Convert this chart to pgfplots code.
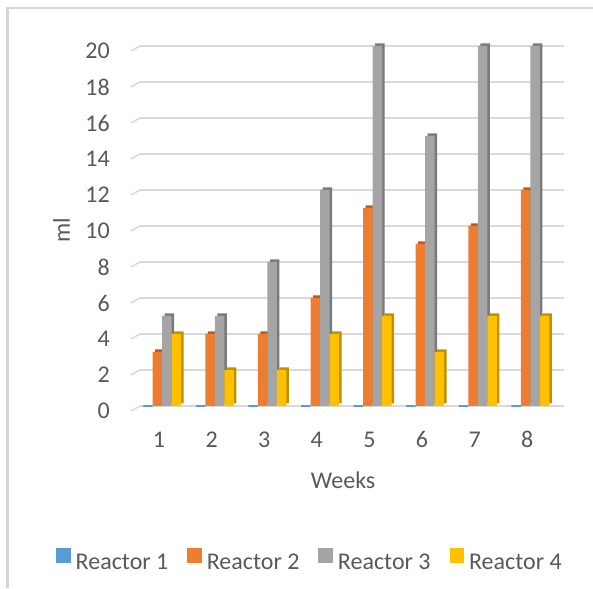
\documentclass[border=0pt]{standalone}
\usepackage{fontspec}
\setmainfont{Carlito}
\usepackage{pgfplots}
\usepackage{pgfplotstable}
\pgfplotsset{compat=1.18}
\definecolor{txt}{HTML}{595959}
\definecolor{gridc}{HTML}{D9D9D9}
\definecolor{framec}{HTML}{D4D4D4}
\definecolor{cA}{HTML}{5B9BD5}
\definecolor{cB}{HTML}{ED7D31}
\definecolor{cC}{HTML}{A5A5A5}
\definecolor{cD}{HTML}{FFC000}
\definecolor{sB}{HTML}{B35C22}
\definecolor{sC}{HTML}{7A7A7A}
\definecolor{sD}{HTML}{BF9000}
\pgfplotstableread{
week r1 r2 r3 r4
1 0 3 5 4
2 0 4 5 2
3 0 4 8 2
4 0 6 12 4
5 0 11 20 5
6 0 9 15 3
7 0 10 20 5
8 0 12 20 5
}\data
\begin{document}
\begin{tikzpicture}[x=1pt,y=1pt]
\path[use as bounding box] (0,0) rectangle (593,588);
\fill[framec] (6,578.5) rectangle (593,581);
\fill[framec] (6,0) rectangle (8.5,581);
\begin{axis}[
  at={(140pt,182pt)}, anchor=south west,
  scale only axis, width=424pt, height=360pt,
  xmin=0.639, xmax=8.70, ymin=0, ymax=20,
  clip=false,
  xtick={1,...,8}, ytick={0,2,...,20},
  ymajorgrids, grid style={line width=1.5pt, color=gridc},
  major tick length=0pt,
  tick style={draw=none},
  axis line style={draw=none},
  /pgf/number format/assume math mode=true,
  ticklabel style={font=\fontsize{24}{28}\selectfont, text=txt, inner sep=0pt},
  yticklabel style={anchor=east, xshift=-30pt, yshift=-5pt},
  xticklabel style={anchor=base, yshift=-41.5pt},
  xlabel={Weeks}, ylabel={ml},
  label style={font=\fontsize{24}{28}\selectfont, text=txt, inner sep=0pt},
  xlabel style={at={(axis description cs:0.479,-0.2278)}, anchor=base},
  ylabel style={at={(axis description cs:-0.185,0.489)}, anchor=center},
  ybar, bar width=9.5pt,
  legend columns=4,
  legend style={at={(axis description cs:-0.198,-0.4267)}, anchor=west,
    draw=none, fill=none, font=\fontsize{24}{28}\selectfont, text=txt,
    inner sep=0pt, nodes={inner sep=0pt},
    /tikz/every odd column/.append style={column sep=5pt},
    /tikz/every even column/.append style={column sep=19pt}},
  legend image code/.code={\fill[#1,draw=none] (0pt,0pt) rectangle (14.5pt,15pt);},
]
% perspective stubs of the gridlines
\pgfplotsinvokeforeach{0,2,...,20}{
  \draw[gridc, line width=1.5pt] (axis cs:0.639,#1) -- ++(-9pt,-5pt);
}
% side faces
\addplot[forget plot, fill=sB, draw=none, bar shift=-1.5pt, xshift=2.5pt, yshift=2.5pt] table[x=week,y=r2] {\data};
\addplot[forget plot, fill=sC, draw=none, bar shift=8pt, xshift=2.5pt, yshift=2.5pt] table[x=week,y=r3] {\data};
\addplot[forget plot, fill=sD, draw=none, bar shift=17.5pt, xshift=2.5pt, yshift=2.5pt] table[x=week,y=r4] {\data};
% front faces
\addplot[fill=cA, draw=cA, line width=1.5pt, bar shift=-11pt] table[x=week,y=r1] {\data};
\addplot[fill=cB, draw=none, bar shift=-1.5pt] table[x=week,y=r2] {\data};
\addplot[fill=cC, draw=none, bar shift=8pt] table[x=week,y=r3] {\data};
\addplot[fill=cD, draw=none, bar shift=17.5pt] table[x=week,y=r4] {\data};
\legend{Reactor 1, Reactor 2, Reactor 3, Reactor 4}
\end{axis}
\end{tikzpicture}
\end{document}
